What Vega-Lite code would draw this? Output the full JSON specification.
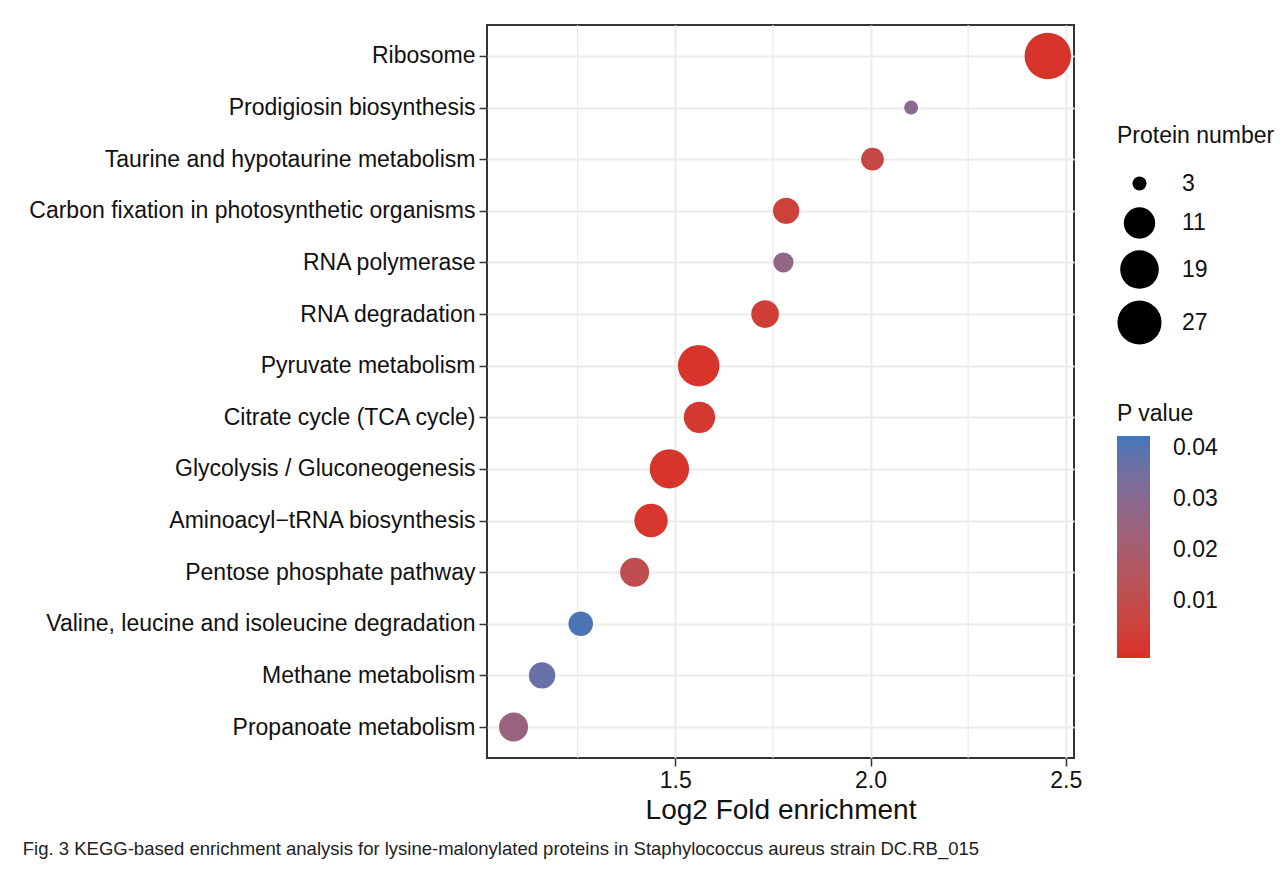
{
  "$schema": "https://vega.github.io/schema/vega-lite/v6.json",
  "autosize": {"type": "none"},
  "padding": {"left": 487, "top": 25, "right": 213, "bottom": 112},
  "width": 587,
  "height": 733,
  "background": "white",
  "config": {
    "font": "Liberation Sans",
    "view": {"stroke": "#333333", "strokeWidth": 2},
    "axis": {
      "domain": false,
      "gridColor": "#EBEBEB",
      "gridWidth": 2,
      "tickColor": "#333333",
      "tickWidth": 1.5,
      "tickSize": 8,
      "labelFontSize": 23,
      "labelColor": "#111111",
      "labelFont": "Liberation Sans",
      "titleFont": "Liberation Sans",
      "titleFontWeight": "normal",
      "titleColor": "#111111"
    },
    "legend": {
      "titleFont": "Liberation Sans",
      "labelFont": "Liberation Sans",
      "titleFontWeight": "normal",
      "titleFontSize": 23,
      "labelFontSize": 23,
      "titleColor": "#111111",
      "labelColor": "#111111"
    }
  },
  "title": {
    "text": "Fig. 3 KEGG-based enrichment analysis for lysine-malonylated proteins in Staphylococcus aureus strain DC.RB_015",
    "orient": "bottom",
    "anchor": "start",
    "frame": "bounds",
    "font": "Liberation Sans",
    "fontSize": 18.5,
    "fontWeight": "normal",
    "color": "#222222",
    "offset": 16,
    "dx": -6
  },
  "datasets": {
    "minor": [{"g": 1.25}, {"g": 1.75}, {"g": 2.25}],
    "kegg": [
      {"pathway": "Ribosome", "enrich": 2.454, "n": 31, "p": 0.0001},
      {"pathway": "Prodigiosin biosynthesis", "enrich": 2.104, "n": 3, "p": 0.030},
      {"pathway": "Taurine and hypotaurine metabolism", "enrich": 2.005, "n": 5, "p": 0.008},
      {"pathway": "Carbon fixation in photosynthetic organisms", "enrich": 1.784, "n": 7, "p": 0.005},
      {"pathway": "RNA polymerase", "enrich": 1.777, "n": 4, "p": 0.027},
      {"pathway": "RNA degradation", "enrich": 1.730, "n": 8, "p": 0.004},
      {"pathway": "Pyruvate metabolism", "enrich": 1.560, "n": 23, "p": 0.0005},
      {"pathway": "Citrate cycle (TCA cycle)", "enrich": 1.562, "n": 11, "p": 0.002},
      {"pathway": "Glycolysis / Gluconeogenesis", "enrich": 1.485, "n": 20, "p": 0.0003},
      {"pathway": "Aminoacyl\u2212tRNA biosynthesis", "enrich": 1.438, "n": 13, "p": 0.001},
      {"pathway": "Pentose phosphate pathway", "enrich": 1.396, "n": 9, "p": 0.011},
      {"pathway": "Valine, leucine and isoleucine degradation", "enrich": 1.258, "n": 6, "p": 0.041},
      {"pathway": "Methane metabolism", "enrich": 1.159, "n": 7, "p": 0.037},
      {"pathway": "Propanoate metabolism", "enrich": 1.086, "n": 9, "p": 0.025}
    ]
  },
  "layer": [
    {
      "data": {"name": "minor"},
      "mark": {"type": "rule", "color": "#EBEBEB", "strokeWidth": 1.2},
      "encoding": {
        "x": {
          "field": "g",
          "type": "quantitative",
          "scale": {"domain": [1.018, 2.521], "nice": false, "zero": false},
          "axis": {
            "values": [1.5, 2.0, 2.5],
            "format": ".1f",
            "title": "Log2 Fold enrichment",
            "titleFontSize": 28,
            "titlePadding": 4,
            "labelPadding": 3
          }
        }
      }
    },
    {
      "data": {"name": "kegg"},
      "mark": {"type": "circle", "opacity": 1, "strokeWidth": 0},
      "encoding": {
        "x": {
          "field": "enrich",
          "type": "quantitative",
          "scale": {"domain": [1.018, 2.521], "nice": false, "zero": false},
          "axis": {
            "values": [1.5, 2.0, 2.5],
            "format": ".1f",
            "title": "Log2 Fold enrichment",
            "titleFontSize": 28,
            "titlePadding": 4,
            "labelPadding": 3
          }
        },
        "y": {
          "field": "pathway",
          "type": "nominal",
          "sort": null,
          "scale": {"type": "point", "padding": 0.6},
          "axis": {"title": null, "labelLimit": 0, "labelPadding": 4, "grid": true}
        },
        "size": {
          "field": "n",
          "type": "quantitative",
          "scale": {
            "type": "linear",
            "zero": false,
            "nice": false,
            "domain": [3, 4, 5, 7, 9, 11, 15, 19, 23, 27, 31],
            "range": [196, 406, 516, 691, 841, 984, 1246, 1490, 1722, 1945, 2162]
          },
          "legend": {
            "title": "Protein number",
            "values": [3, 11, 19, 27],
            "orient": "none",
            "legendX": 630,
            "legendY": 100,
            "symbolFillColor": "black",
            "symbolStrokeWidth": 0,
            "symbolType": "circle",
            "symbolOpacity": 1,
            "titlePadding": 24,
            "rowPadding": 11,
            "labelOffset": 20
          }
        },
        "color": {
          "field": "p",
          "type": "quantitative",
          "scale": {
            "domain": [-0.0011, 0.0423],
            "nice": false,
            "zero": false,
            "range": ["#DA2F26", "#4276BA"],
            "interpolate": "lab"
          },
          "legend": {
            "title": "P value",
            "orient": "none",
            "legendX": 630,
            "legendY": 378,
            "values": [0.01, 0.02, 0.03, 0.04],
            "format": ".2f",
            "gradientLength": 222,
            "gradientThickness": 33,
            "gradientStrokeWidth": 0,
            "titlePadding": 10,
            "labelOffset": 23
          }
        }
      }
    }
  ]
}
